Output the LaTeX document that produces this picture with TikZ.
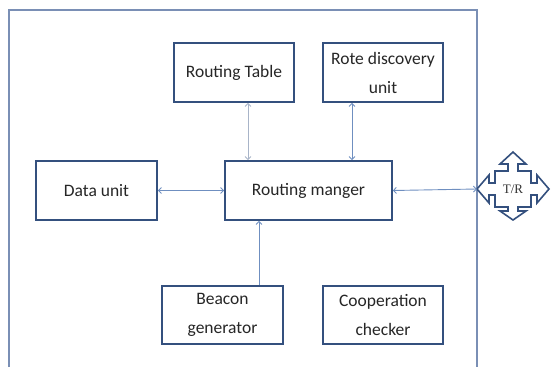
\documentclass[tikz,border=0pt]{standalone}
\usepackage{fontspec}
\setmainfont{Carlito}
\newfontfamily\trfont{Liberation Serif}
\usetikzlibrary{arrows.meta}
\definecolor{boxc}{HTML}{34507E}
\definecolor{linkc}{HTML}{6F8FC0}
\definecolor{palec}{HTML}{A8B4C8}
\definecolor{framec}{HTML}{7A8FB5}
\tikzset{blk/.style={draw=boxc, line width=1.6pt, fill=white, align=center, text=black!85,
  minimum width=120pt, minimum height=59pt, inner sep=2pt,
  font=\fontsize{17.5}{29}\selectfont}}
\tikzset{link/.style={draw=linkc, line width=0.9pt, arrows={Straight Barb[length=3pt,width=6pt]-Straight Barb[length=3pt,width=6pt]}}}
\tikzset{uplink/.style={draw=linkc, line width=0.9pt, -{Straight Barb[length=3pt,width=6pt]}}}

\begin{document}
\begin{tikzpicture}[x=1pt, y=-1pt]
\useasboundingbox (0,0) rectangle (551,367);
% outer frame, open at the bottom
\draw[framec, line width=1.1pt] (9,367) -- (9,10) -- (477,10) -- (477,367);
% blocks
\node (table) at (234,72.5) [blk] {Routing Table};
\node (rdisc) at (383,72.5) [blk] {Rote discovery\\unit};
\node (data) at (96.5,190.5) [blk, minimum width=121pt] {Data unit};
\node (mgr) at (308.5,190.5) [blk, minimum width=167pt] {Routing manger};
\node (beacon) at (222.5,315) [blk, minimum width=121pt, minimum height=58pt] {Beacon\\generator};
\node (coop) at (383,315) [blk, minimum height=58pt] {Cooperation\\checker};
% T/R quad arrow
\coordinate (trc) at (513,189);
\draw[boxc, line width=1.6pt, fill=white, line join=miter, shift={(trc)}]
  (0,-37) -- (13,-25) -- (5,-25) -- (5,-18) -- (18,-18) -- (18,-6) -- (24,-6) -- (24,-14)
  -- (36,0) -- (24,14) -- (24,6) -- (18,6) -- (18,18) -- (5,18) -- (5,22) -- (13,22)
  -- (0,31) -- (-13,22) -- (-5,22) -- (-5,18) -- (-18,18) -- (-18,6) -- (-24,6) -- (-24,14)
  -- (-36,0) -- (-24,-14) -- (-24,-6) -- (-18,-6) -- (-18,-18) -- (-5,-18) -- (-5,-25)
  -- (-13,-25) -- cycle;
\node (tr) at (trc) [font=\trfont\fontsize{13}{14}\selectfont, text=black!80] {T/R};
\coordinate (trtip) at ([xshift=-36pt]trc);
% connectors
\coordinate (tx) at (248,0);
\coordinate (rx) at (352,0);
\coordinate (bx) at (259,0);
\draw[link, draw=palec] (table.south -| tx) -- (mgr.north -| tx);
\draw[link] (rdisc.south -| rx) -- (mgr.north -| rx);
\draw[link] (data.east) -- (mgr.west);
\draw[uplink] (beacon.north -| bx) -- (mgr.south -| bx);
\draw[link] (mgr.east) -- (trtip);
\end{tikzpicture}
\end{document}
